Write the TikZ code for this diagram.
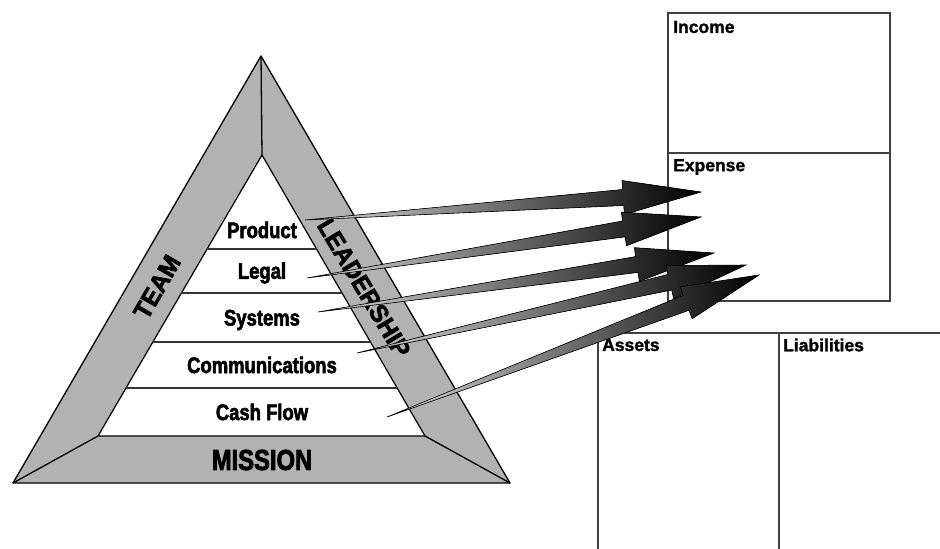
\documentclass[tikz,border=0pt]{standalone}
\usepackage{fontspec}
\setmainfont{Liberation Sans}
\newfontfamily\impactfont[FakeStretch=0.82,FakeBold=2.5]{Liberation Sans}
\newfontfamily\bandfont[FakeStretch=0.97,FakeBold=2.5]{Liberation Sans}
\newfontfamily\boxfont[FakeBold=1.5]{Liberation Sans}
\usetikzlibrary{calc}
\newcommand\taperarrow[2]{%
  \path ($(#2)!78pt!(#1)$) coordinate (hb);
  \filldraw[arrowfill] (#1) -- ($(hb)!8pt!90:(#2)$) -- ($(hb)!17pt!90:(#2)$) -- (#2)
     -- ($(hb)!17pt!-90:(#2)$) -- ($(hb)!8pt!-90:(#2)$) -- cycle;
}
\tikzset{
  band/.style={fill=gray!60, draw=black, line width=1.3pt, line join=round},
  inner/.style={fill=white, draw=black, line width=1.2pt, line join=round},
  layer/.style={draw=black!80, line width=1.1pt},
  tier/.style={font=\impactfont\bfseries\fontsize{22.5}{22.5}\selectfont, inner sep=0pt},
  bandtxt/.style={font=\bandfont\bfseries\fontsize{25}{25}\selectfont, inner sep=0pt},
  missiontxt/.style={font=\impactfont\bfseries\fontsize{29}{29}\selectfont, inner sep=0pt},
  boxline/.style={draw=black!75, line width=1.6pt},
  boxlabel/.style={font=\boxfont\bfseries\fontsize{17.5}{17.5}\selectfont, inner sep=0pt, anchor=west},
  arrowfill/.style={draw=black, line width=0.6pt, line join=miter, left color=gray!30, middle color=gray!65, right color=black}
}
\begin{document}
\begin{tikzpicture}[x=1pt,y=-1pt]
\useasboundingbox (0,0) rectangle (940,549);
% pyramid
\coordinate (oa) at (261,56);
\coordinate (obl) at (13,483);
\coordinate (obr) at (510,483);
\coordinate (ia) at (262,155);
\coordinate (ibl) at (98,436);
\coordinate (ibr) at (425,436);
\filldraw[band] (oa) -- (obr) -- (obl) -- cycle;
\filldraw[inner] (ia) -- (ibr) -- (ibl) -- cycle;
\draw[band] (oa) -- (ia);
\draw[band] (obl) -- (ibl);
\draw[band] (obr) -- (ibr);
\foreach \f in {0.3345,0.491,0.6655,0.829}
  \draw[layer] ($(ia)!\f!(ibl)$) -- ($(ia)!\f!(ibr)$);
% tier labels
\node[tier] (product) at (262,230) {Product};
\node[tier] (legal) at (262,273) {Legal};
\node[tier] (systems) at (262,320) {Systems};
\node[tier] (comm) at (262,365) {Communications};
\node[tier] (cash) at (262,412) {Cash Flow};
\node[missiontxt] (mission) at (262,460) {MISSION};
\node[bandtxt, rotate=60] (team) at (157,287) {TEAM};
\node[bandtxt, rotate=-59] (lead) at (364,288) {LEADERSHIP};
% statements
\coordinate (ib1) at (668,13);
\coordinate (ib2) at (890,301);
\draw[boxline] (ib1) rectangle (ib2);
\draw[boxline] (668,153) -- (890,153);
\node[boxlabel] (income) at (673,27) {Income};
\node[boxlabel] (expense) at (673,167) {Expense};
\draw[boxline] (598,549) -- (598,333) -- (940,333);
\draw[boxline] (779,333) -- (779,549);
\node[boxlabel] (assets) at (602,345) {Assets};
\node[boxlabel] (liab) at (783,345) {Liabilities};
% arrows
\coordinate (t1) at (305,220); \coordinate (p1) at (701,192);
\coordinate (t2) at (307,278); \coordinate (p2) at (701,217);
\coordinate (t3) at (318,312); \coordinate (p3) at (714,253);
\coordinate (t4) at (357,353); \coordinate (p4) at (746,265);
\coordinate (t5) at (387,417); \coordinate (p5) at (759,275);
\taperarrow{t1}{p1}
\taperarrow{t2}{p2}
\taperarrow{t3}{p3}
\taperarrow{t4}{p4}
\taperarrow{t5}{p5}
\end{tikzpicture}
\end{document}
